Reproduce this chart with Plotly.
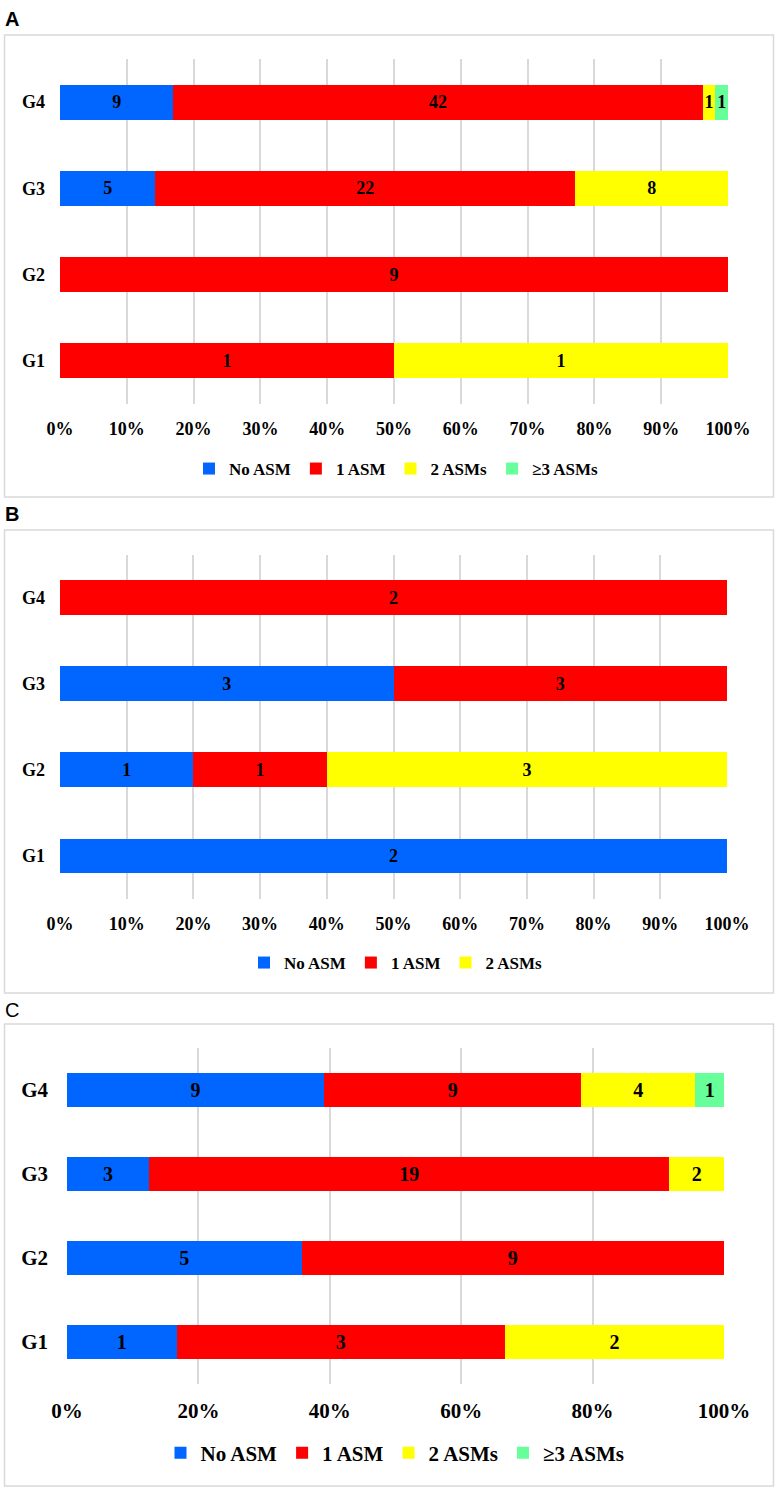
import plotly.graph_objects as go

categories = ["G1", "G2", "G3", "G4"]
series_names = ["No ASM", "1 ASM", "2 ASMs", "≥3 ASMs"]
colors = ["#0066FF", "#FF0000", "#FFFF00", "#66FF99"]

# Panel A counts (G1..G4)
a_no_asm = [0, 0, 5, 9]
a_one_asm = [1, 9, 22, 42]
a_two_asms = [1, 0, 8, 1]
a_three_asms = [0, 0, 0, 1]

# Panel B counts
b_no_asm = [2, 1, 3, 0]
b_one_asm = [0, 1, 3, 2]
b_two_asms = [0, 3, 0, 0]

# Panel C counts
c_no_asm = [1, 5, 3, 9]
c_one_asm = [3, 9, 19, 9]
c_two_asms = [2, 0, 2, 4]
c_three_asms = [0, 0, 0, 1]

a_ticks = [0, 10, 20, 30, 40, 50, 60, 70, 80, 90, 100]
c_ticks = [0, 20, 40, 60, 80, 100]

panels = [
    dict(series=[a_no_asm, a_one_asm, a_two_asms, a_three_asms], ax="", legend="legend", fs=18),
    dict(series=[b_no_asm, b_one_asm, b_two_asms], ax="2", legend="legend2", fs=18),
    dict(series=[c_no_asm, c_one_asm, c_two_asms, c_three_asms], ax="3", legend="legend3", fs=20),
]

SERIF = "Liberation Serif"
H = 1491.0
W = 780.0

fig = go.Figure()
for p in panels:
    for i, vals in enumerate(p["series"]):
        fig.add_trace(go.Bar(
            y=categories, x=vals, orientation="h",
            name=series_names[i],
            marker=dict(color=colors[i], line=dict(width=0)),
            text=[str(v) if v else "" for v in vals],
            textposition="inside", insidetextanchor="middle",
            constraintext="none",
            textfont=dict(family=SERIF, size=p["fs"], color="black", weight="bold"),
            textangle=0,
            xaxis="x" + p["ax"], yaxis="y" + p["ax"],
            legend=p["legend"], showlegend=True,
        ))

def ydom(top, bot):
    return [1 - bot / H, 1 - top / H]

grid = "#d9d9d9"
common_x = dict(range=[0, 100], showgrid=True, gridcolor=grid, gridwidth=1.5,
                zeroline=False, showline=False, ticks="", tickmode="array",
                fixedrange=True, automargin=False)
common_y = dict(type="category", categoryorder="array", categoryarray=categories,
                showgrid=False, zeroline=False, showline=False, ticks="",
                range=[-0.5, 3.5], fixedrange=True, automargin=False)

tickfont_a = dict(family=SERIF, size=18, color="black", weight="bold")
tickfont_c = dict(family=SERIF, size=21, color="black", weight="bold")
catfont_a = dict(family=SERIF, size=18, color="black", weight="bold")
catfont_c = dict(family=SERIF, size=21, color="black", weight="bold")

def legend_cfg(xpx, ypx, size):
    return dict(orientation="h", x=xpx / W, xanchor="center", y=1 - ypx / H, yanchor="middle",
                font=dict(family=SERIF, size=size, color="black", weight="bold"),
                traceorder="normal", itemwidth=30, bgcolor="rgba(0,0,0,0)")

fig.update_layout(
    width=780, height=1491, autosize=False,
    margin=dict(l=0, r=0, t=0, b=0, autoexpand=False),
    paper_bgcolor="white", plot_bgcolor="white",
    barmode="stack", barnorm="percent", bargap=0.595,
    xaxis=dict(domain=[60 / W, 728 / W], anchor="y", tickvals=a_ticks,
               ticktext=[f"{t}%" for t in a_ticks], tickfont=tickfont_a,
               ticklabelstandoff=12, **common_x),
    yaxis=dict(domain=ydom(59, 404), anchor="x", tickfont=catfont_a,
               ticklabelstandoff=14, **common_y),
    xaxis2=dict(domain=[60 / W, 727 / W], anchor="y2", tickvals=a_ticks,
                ticktext=[f"{t}%" for t in a_ticks], tickfont=tickfont_a,
                ticklabelstandoff=12, **common_x),
    yaxis2=dict(domain=ydom(554.5, 899), anchor="x2", tickfont=catfont_a,
                ticklabelstandoff=14, **common_y),
    xaxis3=dict(domain=[67 / W, 724 / W], anchor="y3", tickvals=c_ticks,
                ticktext=[f"{t}%" for t in c_ticks], tickfont=tickfont_c,
                ticklabelstandoff=12, **common_x),
    yaxis3=dict(domain=ydom(1047.5, 1384), anchor="x3", tickfont=catfont_c,
                ticklabelstandoff=18, **common_y),
    legend=legend_cfg(396, 469, 17),
    legend2=legend_cfg(396, 963, 17),
    legend3=legend_cfg(395, 1453, 21),
    showlegend=True,
)

# panel frames
for top, bot in [(35, 497), (530, 993), (1024, 1486)]:
    fig.add_shape(type="rect", xref="paper", yref="paper",
                  x0=4.5 / W, x1=773.5 / W, y0=1 - bot / H, y1=1 - top / H,
                  line=dict(color="#d9d9d9", width=1.5), fillcolor="rgba(0,0,0,0)", layer="below")

# panel letters
for letter, ypx, wt in [("A", 19, "bold"), ("B", 514, "bold"), ("C", 1010, "normal")]:
    fig.add_annotation(text=letter, xref="paper", yref="paper", x=3 / W, y=1 - ypx / H,
                       xanchor="left", yanchor="middle", showarrow=False,
                       font=dict(family="Liberation Sans", size=20, color="black", weight=wt))

fig.write_html("out.html", config={"displayModeBar": False, "responsive": False},
               post_script="document.body.style.margin='0';document.body.style.overflow='hidden';")
